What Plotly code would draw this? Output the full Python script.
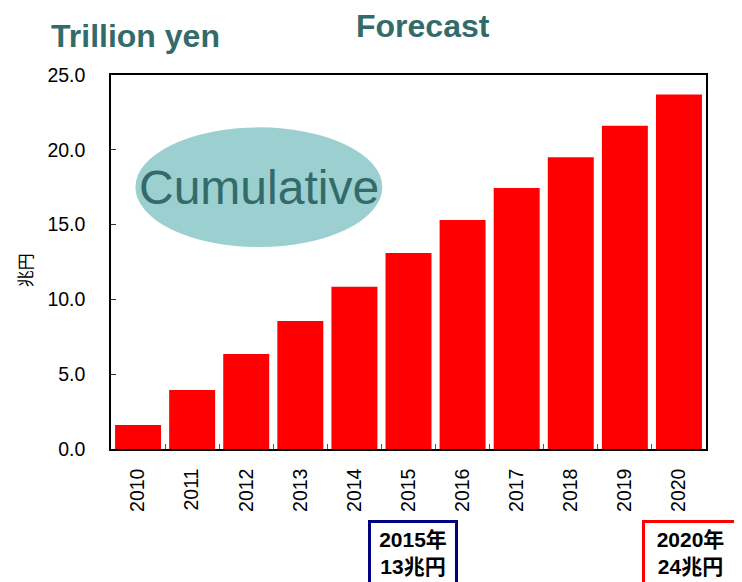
import plotly.graph_objects as go

years = ["2010", "2011", "2012", "2013", "2014", "2015", "2016", "2017", "2018", "2019", "2020"]
values = [1.6, 3.95, 6.35, 8.55, 10.85, 13.1, 15.3, 17.45, 19.5, 21.6, 23.7]
y_ticks = [0, 5, 10, 15, 20, 25]

TEAL = "#336b6b"
FONT = "Liberation Sans, Arial, Noto Sans CJK JP"
BOXFONT = "Liberation Sans, Noto Sans CJK JP"

fig = go.Figure()
fig.add_trace(go.Bar(x=years, y=values, marker=dict(color="#ff0000", line=dict(width=0)),
                     showlegend=False))

fig.update_layout(
    width=742, height=582,
    margin=dict(l=103, r=44, t=67, b=141),
    paper_bgcolor="white", plot_bgcolor="white",
    bargap=0.15,
    font=dict(family=FONT, color="black"),
    xaxis=dict(type="category", tickangle=-90, tickfont=dict(size=19.5, color="black"),
               showline=True, linecolor="black", linewidth=1.5, mirror=True,
               ticks="inside", ticklen=5, tickcolor="#555555", tickson="boundaries",
               ticklabelstandoff=10,
               showgrid=False, automargin=False),
    yaxis=dict(range=[0, 25], tickvals=y_ticks, tickformat=".1f",
               tickfont=dict(size=19.5, color="black"),
               showline=True, linecolor="black", linewidth=1.5, mirror=True,
               ticks="inside", ticklen=5, tickcolor="#333333",
               ticklabelstandoff=20,
               showgrid=False, zeroline=False, automargin=False),
)

# ellipse with "Cumulative"
fig.add_shape(type="circle", xref="paper", yref="paper",
              x0=0.041, x1=0.456, y0=0.540, y1=0.860,
              fillcolor="#9ccfcf", line=dict(width=0), layer="above")
fig.add_annotation(xref="paper", yref="paper", x=0.2485, y=0.700, text="Cumulative",
                   showarrow=False, font=dict(size=48, color=TEAL, family=FONT),
                   xanchor="center", yanchor="middle")

# titles
fig.add_annotation(xref="paper", yref="paper", x=-0.104, y=1.105, text="<b>Trillion yen</b>",
                   showarrow=False, font=dict(size=32, color=TEAL, family=FONT),
                   xanchor="left", yanchor="middle")
fig.add_annotation(xref="paper", yref="paper", x=0.409, y=1.131, text="<b>Forecast</b>",
                   showarrow=False, font=dict(size=32, color=TEAL, family=FONT),
                   xanchor="left", yanchor="middle", height=38)

# y-axis unit label
fig.add_annotation(xref="paper", yref="paper", x=-0.144, y=0.479, text="兆円",
                   showarrow=False, textangle=-90,
                   font=dict(size=17, color="black", family="Noto Sans CJK JP"),
                   xanchor="center", yanchor="middle")

# boxes below axis
fig.add_annotation(xref="paper", yref="paper", x=0.507, y=-0.189,
                   text="<b>2015年<br>13兆円</b>", showarrow=False,
                   font=dict(size=21, color="black", family=BOXFONT),
                   xanchor="center", yanchor="top", width=82, height=58,
                   bordercolor="#000080", borderwidth=3, borderpad=1, bgcolor="white")
fig.add_annotation(xref="paper", yref="paper", x=0.974, y=-0.189,
                   text="<b>2020年<br>24兆円</b>", showarrow=False,
                   font=dict(size=21, color="black", family=BOXFONT),
                   xanchor="center", yanchor="top", width=89, height=58,
                   bordercolor="#ff0000", borderwidth=3, borderpad=1, bgcolor="white")

fig.write_html("out.html")
